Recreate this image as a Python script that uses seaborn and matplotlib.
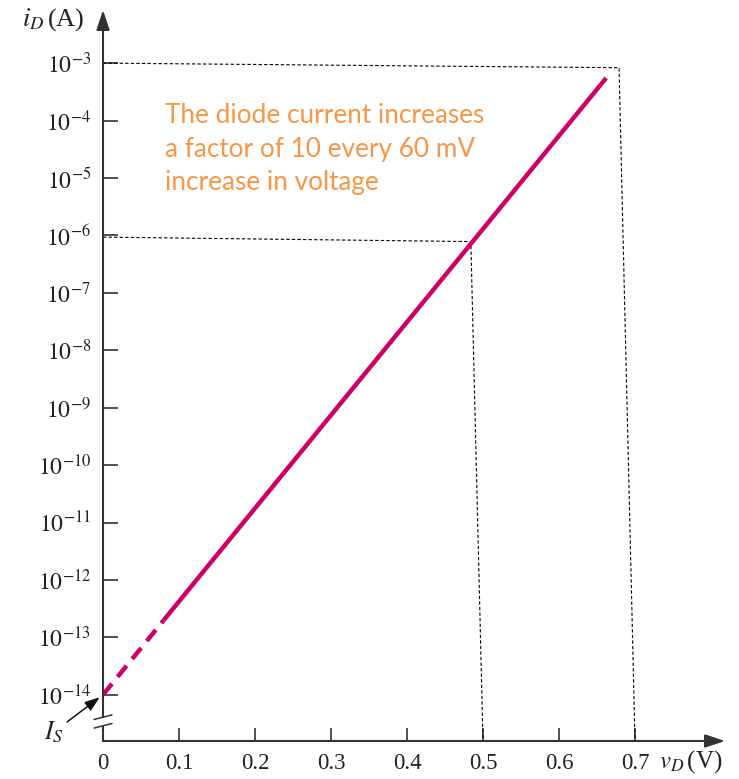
import numpy as np
import pandas as pd
import matplotlib
matplotlib.use("Agg")
import matplotlib.pyplot as plt
from matplotlib.ticker import NullLocator
import seaborn as sns

# --- values ---
v_dashed = [0.0, 0.08]
i_dashed = [1e-14, 2.0e-13]
v_solid = [0.08, 0.662]
i_solid = [2.0e-13, 5.5e-4]

# dotted guide lines (v, i)
guide_hi_v = [0.0, 0.679, 0.700]
guide_hi_i = [1e-3, 10 ** -3.08, 10 ** -14.805]
guide_lo_v = [0.0, 0.484, 0.500]
guide_lo_i = [10 ** -6.03, 10 ** -6.108, 10 ** -14.805]

x_ticks = [0.0, 0.1, 0.2, 0.3, 0.4, 0.5, 0.6, 0.7]
x_tick_labels = ["0", "0.1", "0.2", "0.3", "0.4", "0.5", "0.6", "0.7"]
y_exponents = [-3, -4, -5, -6, -7, -8, -9, -10, -11, -12, -13, -14]
y_tick_labels = [r"$10^{%d}$" % e for e in y_exponents]

note_lines = ["The diode current increases",
              "a factor of 10 every 60 mV",
              "increase in voltage"]

sns.set_style("white")
plt.rcParams["font.family"] = ["Liberation Serif", "DejaVu Serif"]
plt.rcParams["mathtext.fontset"] = "stix"

W, H = 739, 779
fig = plt.figure(figsize=(W / 100, H / 100), dpi=100)
ax = fig.add_axes([103 / W, 38 / H, 622 / W, 731 / H])

line_color = "#CC0066"
axis_color = "#333333"
text_color = "#222222"

solid = pd.DataFrame({"v": v_solid, "i": i_solid})
dashed = pd.DataFrame({"v": v_dashed, "i": i_dashed})
sns.lineplot(data=solid, x="v", y="i", ax=ax, color=line_color, lw=3.2,
             solid_capstyle="butt", zorder=3)
sns.lineplot(data=dashed, x="v", y="i", ax=ax, color=line_color, lw=3.2,
             dashes=False, zorder=3)
ax.lines[-1].set_linestyle((0, (3.2, 2.0)))
ax.lines[-1].set_dash_capstyle("butt")

for gv, gi in [(guide_hi_v, guide_hi_i), (guide_lo_v, guide_lo_i)]:
    ax.plot(gv, gi, color="black", lw=0.8, ls=(0, (3, 2)), zorder=2)

ax.set_yscale("log")
ax.set_xlim(0, 622 / 760)
ax.set_ylim(10 ** -14.805, 10 ** -2.075)
ax.yaxis.set_minor_locator(NullLocator())

ax.set_xticks(x_ticks, x_tick_labels)
ax.set_yticks([10.0 ** e for e in y_exponents], y_tick_labels)
ax.tick_params(axis="y", direction="in", length=10.8, width=1.2, color=axis_color,
               pad=8.5, labelsize=17, labelcolor=text_color, left=True)
ax.tick_params(axis="x", direction="in", length=9.4, width=1.2, color=axis_color,
               pad=8.5, labelsize=16.5, labelcolor=text_color, bottom=True)
ax.set_xlabel("")
ax.set_ylabel("")

for s in ax.spines.values():
    s.set_visible(False)

arrow = dict(arrowstyle="-|>,head_length=0.6,head_width=0.2", color=axis_color,
             lw=1.5, mutation_scale=20, shrinkA=0, shrinkB=0)
# x axis
ax.annotate("", xy=(1, 0), xytext=(0, 0), xycoords="axes fraction",
            textcoords="axes fraction", arrowprops=arrow, annotation_clip=False)
# y axis, broken near the bottom
ax.annotate("", xy=(0, 1), xytext=(0, 10 ** -14.39), xycoords=("data", "axes fraction"),
            textcoords="data", arrowprops=arrow, annotation_clip=False)
ax.plot([0, 0], [10 ** -14.805, 10 ** -14.54], color=axis_color, lw=1.5,
        solid_capstyle="butt", clip_on=False)
for yb in [-14.39, -14.54]:
    ax.plot([-0.0118, 0.0118], [10 ** (yb - 0.04), 10 ** (yb + 0.04)],
            color=axis_color, lw=1.1, clip_on=False)

# axis names
fig.text(22 / W, 1 - 26 / H, r"$i_D\,$(A)", fontsize=19, color=text_color,
         ha="left", va="baseline")
fig.text(659 / W, 1 - 768 / H, r"$v_D\,$(V)", fontsize=18, color=text_color,
         ha="left", va="baseline")

# I_S pointer
ax.annotate("", xy=(0, 1e-14), xycoords="data", xytext=(67, H - 722),
            textcoords="figure pixels",
            arrowprops=dict(arrowstyle="-|>,head_length=0.5,head_width=0.18",
                            color="#111111", lw=1.1, mutation_scale=18,
                            shrinkA=0, shrinkB=3), annotation_clip=False)
fig.text(44 / W, 1 - 739 / H, r"$I_S$", fontsize=18.5, color=text_color,
         ha="left", va="baseline")

# orange note
for k, txt in enumerate(note_lines):
    fig.text(165 / W, 1 - (123 + 33.5 * k) / H, txt, fontsize=18.8,
             family=["Lato", "DejaVu Sans"], color="#F79646",
             ha="left", va="baseline")

fig.savefig("out.png", dpi=100)
